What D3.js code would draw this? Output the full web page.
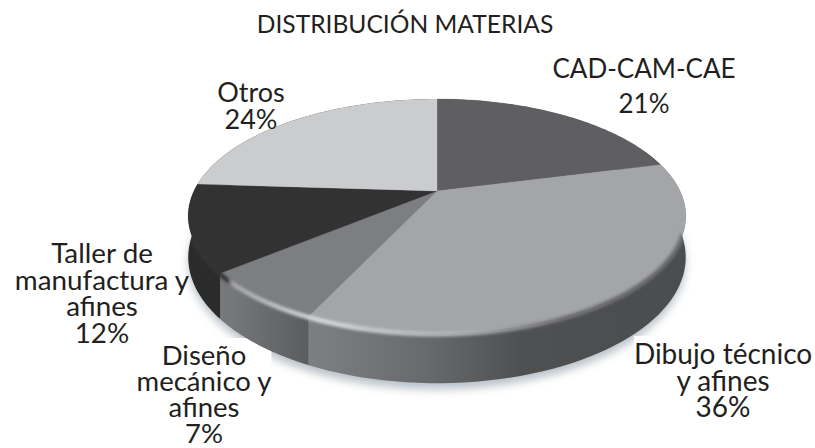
<!DOCTYPE html>
<html>
<head>
<meta charset="utf-8">
<script src="https://cdnjs.cloudflare.com/ajax/libs/d3/7.8.5/d3.min.js"></script>
<style>
  html, body { margin: 0; background: #fff; }
  svg { display: block; }
  text { font-family: Lato, "Open Sans", sans-serif; fill: #231f20; }
</style>
</head>
<body>
<div id="chart"></div>
<script>
const title = "DISTRIBUCIÓN MATERIAS";
const categories = ["CAD-CAM-CAE", "Dibujo técnico y afines", "Diseño mecánico y afines", "Taller de manufactura y afines", "Otros"];
const values = [21, 36, 7, 12, 24];
const topColors = ["#5f5f62", "#a4a5a8", "#7d7e81", "#323232", "#cbccce"];
const labelLines = [
  ["CAD-CAM-CAE", "21%"],
  ["Dibujo técnico", "y afines", "36%"],
  ["Diseño", "mecánico y", "afines", "7%"],
  ["Taller de", "manufactura y", "afines", "12%"],
  ["Otros", "24%"],
];

const width = 815, height = 448;

const svg = d3.select("#chart").append("svg")
  .attr("width", width)
  .attr("height", height)
  .attr("viewBox", [0, 0, width, height]);

//perspective of the disc
const cx = 437, apexY = 191, radius = 243, skew = -0.2137, spread = 70.8, depth = 39.5;

function project(angle, drop = 0, r = 1) {
  const u = r * Math.sin(angle);
  const v = -r * Math.cos(angle);
  const w = 1 + skew * v;
  return [cx + (radius * u) / w, (apexY + spread * v + drop) / w];
}

const pie = d3.pie().sort(null).value((d) => d);
const arcs = pie(values);
const line = d3.line();

function rimPoints(a0, a1, drop, r = 1) {
  return d3.range(0, 61).map((i) => project(a0 + ((a1 - a0) * i) / 60, drop, r));
}

//defs
const defs = svg.append("defs");
defs.append("filter").attr("id", "shadow")
  .attr("x", "-10%").attr("y", "-10%").attr("width", "120%").attr("height", "130%")
  .append("feGaussianBlur").attr("stdDeviation", 4);
defs.append("filter").attr("id", "soft")
  .attr("x", "-10%").attr("y", "-10%").attr("width", "120%").attr("height", "120%")
  .append("feGaussianBlur").attr("stdDeviation", 1.6);

function addGradient(id, x1, x2, stops) {
  const g = defs.append("linearGradient").attr("id", id)
    .attr("gradientUnits", "userSpaceOnUse")
    .attr("x1", x1).attr("x2", x2).attr("y1", 0).attr("y2", 0);
  stops.forEach(([o, c]) => g.append("stop").attr("offset", o).attr("stop-color", c));
}
addGradient("sideBig", 315, 690, [[0, "#7d7e81"], [0.3, "#68696c"], [0.55, "#4f5052"], [1, "#4b4c4e"]]);
addGradient("sideSmall", 228, 318, [[0, "#77787b"], [1, "#58595b"]]);
addGradient("bevel", 190, 690, [[0, "#333333"], [0.075, "#333333"], [0.085, "#a8a9ab"], [0.26, "#dcdddf"], [0.55, "#b2b3b5"], [0.75, "#77787a"], [1, "#6c6d6f"]]);

const sideFill = ["#4b4c4e", "url(#sideBig)", "url(#sideSmall)", "#2b2b2b", "#2b2b2b"];

//shadow under the disc
const full = [0, 2 * Math.PI];
const shadowLayer = svg.append("g").attr("class", "shadow");
shadowLayer.append("path")
  .attr("d", line(rimPoints(full[0], full[1], depth + 5)) + "Z")
  .attr("fill", "#a9b3bb")
  .attr("opacity", 0.8)
  .attr("filter", "url(#shadow)");

//side walls
svg.append("g").attr("class", "sides")
  .selectAll("path")
  .data(arcs)
  .join("path")
  .attr("d", (d) => {
    const a0 = d.startAngle, a1 = d.endAngle;
    return line([...rimPoints(a0, a1, 0), ...rimPoints(a1, a0, depth)]) + "Z";
  })
  .attr("fill", (d, i) => sideFill[i]);

//top faces
svg.append("g").attr("class", "faces")
  .selectAll("path")
  .data(arcs)
  .join("path")
  .attr("d", (d) => line([project(0, 0, 0), ...rimPoints(d.startAngle, d.endAngle, 0)]) + "Z")
  .attr("fill", (d, i) => topColors[i])
  .attr("stroke", (d, i) => topColors[i])
  .attr("stroke-width", 0.3);

//soft bevel along the front of the rim, kept inside the body
defs.append("clipPath").attr("id", "body")
  .append("path")
  .attr("d", line([...rimPoints(Math.PI * 0.3, Math.PI * 1.6, depth), ...rimPoints(Math.PI * 1.6, Math.PI * 0.3, -20, 0.9)]) + "Z");
svg.append("g").attr("class", "bevel").attr("clip-path", "url(#body)")
  .append("path")
  .attr("d", line(rimPoints(Math.PI * 0.42, Math.PI * 1.5, 1)))
  .attr("fill", "none")
  .attr("stroke", "url(#bevel)")
  .attr("stroke-width", 4.5)
  .attr("filter", "url(#soft)");

//title
svg.append("text")
  .attr("x", 405).attr("y", 33)
  .attr("text-anchor", "middle")
  .attr("font-size", 24.6)
  .text(title);

//labels
const labelPos = [[644, 78], [723, 364], [204, 365], [102, 263], [251, 102]];
const lineGap = [35, 26.5, 26, 26.7, 27];
const labelSize = [26, 28, 27.5, 27.8, 27];
const labels = svg.append("g").attr("class", "labels")
  .selectAll("text")
  .data(labelLines)
  .join("text")
  .attr("aria-label", (d, i) => categories[i])
  .attr("text-anchor", "middle")
  .attr("font-size", (d, i) => labelSize[i])
  .each(function (lines, i) {
    d3.select(this).selectAll("tspan")
      .data(lines)
      .join("tspan")
      .attr("x", labelPos[i][0])
      .attr("y", (d, j) => labelPos[i][1] + j * lineGap[i])
      .text((d) => d);
  });

//white boxes of the two lower labels cut the shadow
labels.filter((d, i) => i === 1 || i === 2).each(function () {
  const b = this.getBBox();
  shadowLayer.append("rect")
    .attr("x", b.x).attr("y", b.y)
    .attr("width", b.width).attr("height", b.height)
    .attr("fill", "#fff");
});
</script>
</body>
</html>
